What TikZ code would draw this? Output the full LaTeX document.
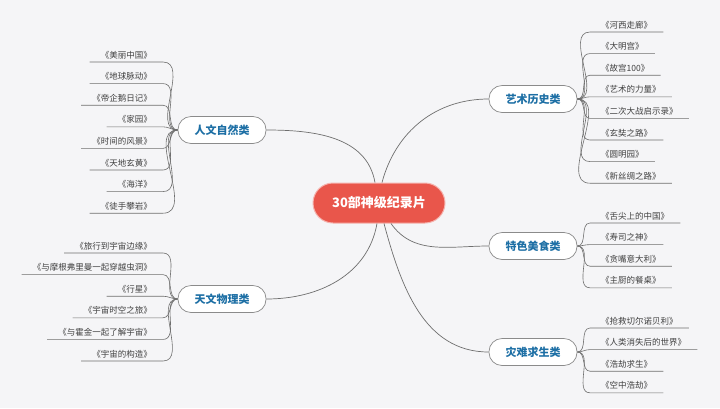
\documentclass[tikz,border=0pt]{standalone}
\usepackage{fontspec}
\usepackage{tikz}
\newfontfamily\cjk{Noto Sans CJK SC}
\definecolor{bgc}{HTML}{F5F5F7}
\definecolor{rootred}{HTML}{E9564B}
\definecolor{branchblue}{HTML}{1D6FA5}
\definecolor{linegray}{HTML}{6E6E6E}

\tikzset{
  root/.style={rounded corners=20pt, fill=rootred, draw=rootred!45, line width=1pt,
    minimum width=132pt, minimum height=40pt, text=white, font=\cjk\bfseries\fontsize{13}{15}\selectfont},
  branch/.style={rounded corners=13pt, fill=white, draw=linegray!80, line width=0.7pt,
    minimum width=88pt, minimum height=27pt, text=branchblue, font=\cjk\bfseries\fontsize{11}{13}\selectfont},
  leaf/.style={inner xsep=11pt, inner ysep=3pt, text=black!75, font=\cjk\fontsize{8.5}{10}\selectfont},
  leafline/.style={draw=linegray, line width=0.6pt},
  mainline/.style={draw=linegray, line width=0.7pt}
}

\begin{document}
\begin{tikzpicture}[x=1pt,y=-1pt]

\fill[bgc] (0,0) rectangle (720,408);
\useasboundingbox (0,0) rectangle (720,408);

% centre and branches
\node[root] (root) at (379,203) {30部神级纪录片};
\node[branch] (rw) at (222,130) {人文自然类};
\node[branch] (tw) at (222,299) {天文物理类};
\node[branch] (ys) at (533,99) {艺术历史类};
\node[branch] (ts) at (533,246) {特色美食类};
\node[branch] (zn) at (533,352) {灾难求生类};

\draw[mainline] ([xshift=-4pt]root.north) to[out=100,in=0] (rw.east);
\draw[mainline] ([xshift=-2pt]root.south) to[out=-100,in=0] (tw.east);
\draw[mainline] ([xshift=3pt]root.north) to[out=75,in=180] (ys.west);
\draw[mainline] ([xshift=12pt]root.south) to[out=-55,in=180] (ts.west);
\draw[mainline] ([xshift=5pt]root.south) to[out=-75,in=180] (zn.west);

% left side
\foreach \t [count=\i] in {美丽中国,地球脉动,帝企鹅日记,家园,时间的风景,天地玄黄,海洋,徒手攀岩}
{
\node[leaf, anchor=south east] (rw\i) at (163,{62+(\i-1)*21.6}) {《\t》};
\draw[leafline] (rw\i.south west) -- (rw\i.south east) to[out=0,in=180] (rw.west);
}

\foreach \t [count=\i] in {旅行到宇宙边缘,与摩根弗里曼一起穿越虫洞,行星,宇宙时空之旅,与霍金一起了解宇宙,宇宙的构造}
{
\node[leaf, anchor=south east] (tw\i) at (163,{253+(\i-1)*21.6}) {《\t》};
\draw[leafline] (tw\i.south west) -- (tw\i.south east) to[out=0,in=180] (tw.west);
}

% right side
\foreach \t [count=\i] in {河西走廊,大明宫,故宫100,艺术的力量,二次大战启示录,玄奘之路,圆明园,新丝绸之路}
{
\node[leaf, anchor=south west] (ys\i) at (590,{32+(\i-1)*21.6}) {《\t》};
\draw[leafline] (ys\i.south east) -- (ys\i.south west) to[out=180,in=0] (ys.east);
}

\foreach \t [count=\i] in {舌尖上的中国,寿司之神,贪嘴意大利,主厨的餐桌}
{
\node[leaf, anchor=south west] (ts\i) at (590,{223+(\i-1)*21.6}) {《\t》};
\draw[leafline] (ts\i.south east) -- (ts\i.south west) to[out=180,in=0] (ts.east);
}

\foreach \t [count=\i] in {抢救切尔诺贝利,人类消失后的世界,浩劫求生,空中浩劫}
{
\node[leaf, anchor=south west] (zn\i) at (590,{328+(\i-1)*21.6}) {《\t》};
\draw[leafline] (zn\i.south east) -- (zn\i.south west) to[out=180,in=0] (zn.east);
}

\end{tikzpicture}
\end{document}
